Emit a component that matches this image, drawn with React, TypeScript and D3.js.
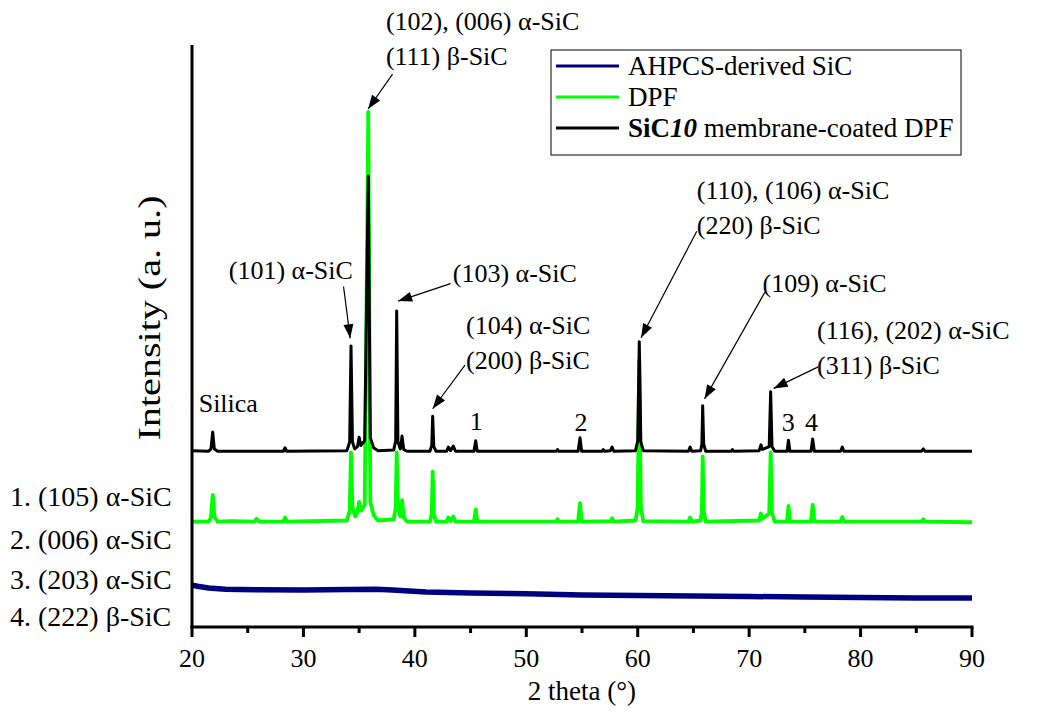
import React from "react";
import * as d3 from "d3";

// 2 theta range and tick labels
const xDomain: [number, number] = [20, 90];
const xMajorTicks = [20, 30, 40, 50, 60, 70, 80, 90];
const xMinorTicks = [25, 35, 45, 55, 65, 75, 85];
const yDomain: [number, number] = [0, 1000];

// AHPCS-derived SiC (navy)
const ahpcs: [number, number][] = [
  [20, 72], [20.5, 70], [21.5, 67], [23, 65], [26, 64], [30, 63.5], [34, 64.5],
  [36.5, 65], [38, 63.5], [41, 60], [45, 58.5], [50, 57], [55, 55], [60, 54],
  [65, 53.3], [70, 52.4], [75, 51.5], [80, 50.7], [85, 49.8], [90, 49.8],
];

// DPF (green)
const dpf: [number, number][] = [
  [20, 181], [21.5, 181], [21.7, 188], [21.86, 227], [22.0, 190], [22.3, 181],
  [23.5, 182], [25.6, 181], [25.8, 186], [26.0, 181],
  [28.2, 181], [28.35, 188], [28.5, 181],
  [33.9, 183], [34.15, 200], [34.27, 300], [34.4, 205], [34.65, 190], [34.85, 198], [35.0, 215], [35.15, 200], [35.5, 210], [35.82, 885], [36.0, 215], [36.3, 192], [36.7, 183],
  [38.1, 185], [38.28, 205], [38.37, 300], [38.48, 205], [38.7, 190], [38.85, 218], [39.0, 188], [39.3, 181],
  [41.35, 181], [41.52, 195], [41.6, 267], [41.7, 193], [41.9, 181],
  [42.85, 181], [43.0, 188], [43.2, 182], [43.45, 190], [43.65, 181],
  [45.3, 181], [45.46, 202], [45.6, 181],
  [52.7, 181], [52.8, 185], [52.9, 181],
  [54.65, 181], [54.82, 213], [54.97, 181],
  [57.55, 182], [57.7, 187], [57.85, 181],
  [59.8, 183], [60.0, 205], [60.14, 459], [60.28, 205], [60.5, 182],
  [64.55, 181], [64.7, 188], [64.85, 181],
  [65.65, 183], [65.76, 200], [65.83, 293], [65.92, 200], [66.1, 181],
  [70.9, 183], [71.06, 195], [71.2, 186], [71.8, 195], [71.93, 300], [72.05, 195], [72.3, 181],
  [73.4, 181], [73.53, 208], [73.66, 181],
  [75.55, 181], [75.7, 210], [75.85, 181],
  [78.2, 181], [78.36, 189], [78.5, 181],
  [85.45, 181], [85.63, 185], [85.8, 181],
  [90, 180],
];

// SiC10 membrane-coated DPF (black)
const coated: [number, number][] = [
  [20, 303], [21.5, 302], [21.7, 306], [21.86, 335], [22.0, 306], [22.3, 302],
  [28.2, 302], [28.35, 308], [28.5, 302],
  [33.9, 303], [34.15, 318], [34.27, 483], [34.4, 318], [34.6, 306], [34.85, 310], [35.0, 326], [35.15, 312], [35.5, 320], [35.82, 775], [36.0, 325], [36.3, 308], [36.7, 303],
  [38.1, 304], [38.28, 320], [38.37, 543], [38.48, 318], [38.7, 306], [38.85, 328], [39.0, 305], [39.3, 302],
  [41.35, 302], [41.52, 312], [41.6, 362], [41.7, 310], [41.9, 302],
  [42.85, 302], [43.0, 309], [43.2, 303], [43.45, 311], [43.65, 302],
  [45.3, 302], [45.46, 320], [45.6, 302],
  [52.7, 302], [52.8, 305], [52.9, 302],
  [54.65, 302], [54.82, 325], [54.97, 302],
  [56.8, 302], [56.9, 305], [57.0, 302], [57.55, 303], [57.7, 309], [57.85, 302],
  [59.8, 303], [60.0, 320], [60.14, 490], [60.28, 318], [60.5, 303],
  [64.55, 302], [64.7, 309], [64.85, 302],
  [65.65, 303], [65.76, 315], [65.83, 380], [65.92, 314], [66.1, 302],
  [68.4, 302], [68.5, 305], [68.6, 302],
  [70.9, 303], [71.06, 313], [71.2, 305], [71.8, 310], [71.93, 404], [72.05, 310], [72.3, 302],
  [73.4, 302], [73.53, 321], [73.66, 302],
  [75.55, 302], [75.7, 323], [75.85, 302],
  [78.2, 302], [78.36, 309], [78.5, 302],
  [85.45, 302], [85.63, 306], [85.8, 302],
  [90, 302],
];

// Peak annotations: lines of text, text anchor (2theta, intensity), arrow from / tip (2theta, intensity)
const peakLabels: { lines: string[]; at: [number, number]; tip: [number, number]; from: [number, number] }[] = [
  { lines: ["(102), (006) α-SiC", "(111) β-SiC"], at: [37.4, 1025], from: [38.0, 950], tip: [35.8, 890] },
  { lines: ["(101) α-SiC"], at: [23.3, 598], from: [33.6, 585], tip: [34.2, 496] },
  { lines: ["(103) α-SiC"], at: [43.4, 593], from: [43.2, 590], tip: [38.5, 560] },
  { lines: ["(104) α-SiC", "(200) β-SiC"], at: [44.6, 503], from: [44.5, 450], tip: [41.6, 375] },
  { lines: ["(110), (106) α-SiC", "(220) β-SiC"], at: [65.3, 735], from: [65.3, 680], tip: [60.3, 497] },
  { lines: ["(109) α-SiC"], at: [71.2, 575], from: [71.4, 575], tip: [66.0, 392] },
  { lines: ["(116), (202) α-SiC", "(311) β-SiC"], at: [76.1, 495], from: [76.2, 447], tip: [72.2, 410] },
];

const peakNumbers: { label: string; at: [number, number] }[] = [
  { label: "Silica", at: [20.6, 370] },
  { label: "1", at: [45.5, 338] },
  { label: "2", at: [54.9, 336] },
  { label: "3", at: [73.5, 336] },
  { label: "4", at: [75.6, 336] },
];

const phaseKey = ["1. (105) α-SiC", "2. (006) α-SiC", "3. (203) α-SiC", "4. (222) β-SiC"];

const seriesNames = ["AHPCS-derived SiC", "DPF", "SiC10 membrane-coated DPF"];
const seriesColors = ["#00007f", "#00ff00", "#000000"];

const W = 1052;
const H = 712;
const FONT = "Liberation Serif, Times New Roman, Times, DejaVu Serif, serif";

export default function App() {
  const x = d3.scaleLinear().domain(xDomain).range([192, 972]);
  const y = d3.scaleLinear().domain(yDomain).range([627, 45]);
  const line = d3
    .line<[number, number]>()
    .x((d) => x(d[0]))
    .y((d) => y(d[1]));

  const arrowHead = (x1: number, y1: number, x2: number, y2: number) => {
    const a = Math.atan2(y2 - y1, x2 - x1);
    const L = 14;
    const w = 5;
    const bx = x2 - L * Math.cos(a);
    const by = y2 - L * Math.sin(a);
    const px = -Math.sin(a) * w;
    const py = Math.cos(a) * w;
    return `M${x2},${y2}L${bx + px},${by + py}L${bx - px},${by - py}Z`;
  };

  return (
    <svg width={W} height={H} style={{ position: "absolute", left: 0, top: 0, background: "#fff", fontFamily: FONT }}>
      <rect x={0} y={0} width={W} height={H} fill="#fff" />
      {/* series */}
      <path d={line(ahpcs) || ""} fill="none" stroke={seriesColors[0]} strokeWidth={5.5} strokeLinejoin="round" />
      <path d={line(dpf) || ""} fill="none" stroke={seriesColors[1]} strokeWidth={3.8} strokeLinejoin="round" />
      <path d={line(coated) || ""} fill="none" stroke={seriesColors[2]} strokeWidth={3} strokeLinejoin="round" />

      {/* axes */}
      <line x1={x(20)} y1={45} x2={x(20)} y2={y(0) + 1} stroke="#000" strokeWidth={3} />
      <line x1={x(20) - 1.5} y1={y(0)} x2={x(90) + 1.5} y2={y(0)} stroke="#000" strokeWidth={3} />
      {xMajorTicks.map((t) => (
        <g key={"M" + t}>
          <line x1={x(t)} x2={x(t)} y1={y(0)} y2={y(0) + 10} stroke="#000" strokeWidth={3} />
          <text x={x(t)} y={y(0) + 40} textAnchor="middle" fontSize={26}>
            {t}
          </text>
        </g>
      ))}
      {xMinorTicks.map((t) => (
        <line key={"m" + t} x1={x(t)} x2={x(t)} y1={y(0)} y2={y(0) + 6} stroke="#000" strokeWidth={3} />
      ))}
      <text x={(x(20) + x(90)) / 2} y={700} textAnchor="middle" fontSize={27}>
        2 theta (°)
      </text>
      <text
        transform={`translate(160,${318}) rotate(-90)`}
        textAnchor="middle"
        fontSize={31}
        textLength={245}
        lengthAdjust="spacingAndGlyphs"
      >
        Intensity (a. u.)
      </text>

      {/* peak annotations */}
      {peakLabels.map((p, i) => {
        const x1 = x(p.from[0]);
        const y1 = y(p.from[1]);
        const x2 = x(p.tip[0]);
        const y2 = y(p.tip[1]);
        return (
          <g key={"pl" + i}>
            {p.lines.map((l, j) => (
              <text key={j} x={x(p.at[0])} y={y(p.at[1]) + j * 35} fontSize={26}>
                {l}
              </text>
            ))}
            <line x1={x1} y1={y1} x2={x2} y2={y2} stroke="#000" strokeWidth={1.2} />
            <path d={arrowHead(x1, y1, x2, y2)} fill="#000" />
          </g>
        );
      })}
      {peakNumbers.map((p, i) => (
        <text key={"pn" + i} x={x(p.at[0])} y={y(p.at[1])} fontSize={26} textAnchor={i === 0 ? "start" : "middle"}>
          {p.label}
        </text>
      ))}
      {phaseKey.map((k, i) => (
        <text key={"k" + i} x={10} y={[506, 549, 589, 626][i]} fontSize={28}>
          {k}
        </text>
      ))}

      {/* legend */}
      <g>
        <rect x={551} y={50} width={410} height={105} fill="#fff" stroke="#000" strokeWidth={1} />
        {seriesNames.map((n, i) => {
          const ly = 66 + i * 31;
          return (
            <g key={"lg" + i}>
              <line x1={556} x2={619} y1={ly} y2={ly} stroke={seriesColors[i]} strokeWidth={3} />
              {i < 2 ? (
                <text x={628} y={ly + 9} fontSize={27}>
                  {n}
                </text>
              ) : (
                <text x={628} y={ly + 9} fontSize={27}>
                  <tspan fontWeight="bold">SiC</tspan>
                  <tspan fontWeight="bold" fontStyle="italic">10</tspan>
                  <tspan> membrane-coated DPF</tspan>
                </text>
              )}
            </g>
          );
        })}
      </g>
    </svg>
  );
}
